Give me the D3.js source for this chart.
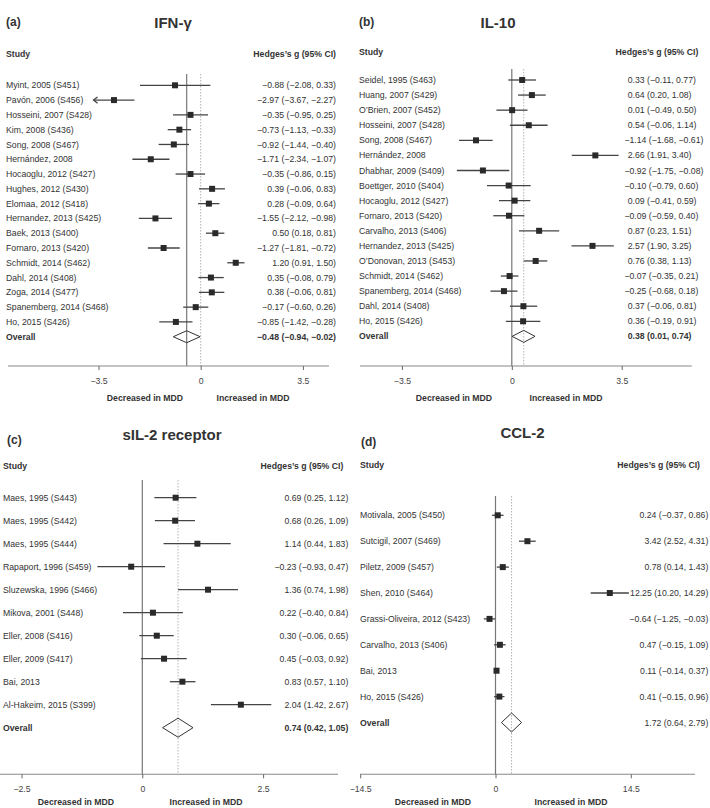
<!DOCTYPE html>
<html>
<head>
<meta charset="utf-8">
<script src="https://cdn.jsdelivr.net/npm/d3@7"></script>
<style>
  body { margin: 0; background: #fff; }
  text { font-family: "Liberation Sans", Arial, sans-serif; }
</style>
</head>
<body>
<svg width="710" height="808"></svg>
<script>
// ---- data: (a) IFN-gamma
const ifnStudies = ["Myint, 2005 (S451)", "Pavón, 2006 (S456)", "Hosseini, 2007 (S428)", "Kim, 2008 (S436)",
  "Song, 2008 (S467)", "Hernández, 2008", "Hocaoglu, 2012 (S427)", "Hughes, 2012 (S430)", "Elomaa, 2012 (S418)",
  "Hernandez, 2013 (S425)", "Baek, 2013 (S400)", "Fornaro, 2013 (S420)", "Schmidt, 2014 (S462)", "Dahl, 2014 (S408)",
  "Zoga, 2014 (S477)", "Spanemberg, 2014 (S468)", "Ho, 2015 (S426)"];
const ifnG  = [-0.88, -2.97, -0.35, -0.73, -0.92, -1.71, -0.35, 0.39, 0.28, -1.55, 0.50, -1.27, 1.20, 0.35, 0.38, -0.17, -0.85];
const ifnLo = [-2.08, -3.67, -0.95, -1.13, -1.44, -2.34, -0.86, -0.06, -0.09, -2.12, 0.18, -1.81, 0.91, -0.08, -0.06, -0.60, -1.42];
const ifnHi = [0.33, -2.27, 0.25, -0.33, -0.40, -1.07, 0.15, 0.83, 0.64, -0.98, 0.81, -0.72, 1.50, 0.79, 0.81, 0.26, -0.28];
const ifnOverall = [-0.48, -0.94, -0.02];
const ifnTicks = [-3.5, 0, 3.5];

// ---- data: (b) IL-10
const il10Studies = ["Seidel, 1995 (S463)", "Huang, 2007 (S429)", "O’Brien, 2007 (S452)", "Hosseini, 2007 (S428)",
  "Song, 2008 (S467)", "Hernández, 2008", "Dhabhar, 2009 (S409)", "Boettger, 2010 (S404)", "Hocaoglu, 2012 (S427)",
  "Fornaro, 2013 (S420)", "Carvalho, 2013 (S406)", "Hernandez, 2013 (S425)", "O’Donovan, 2013 (S453)",
  "Schmidt, 2014 (S462)", "Spanemberg, 2014 (S468)", "Dahl, 2014 (S408)", "Ho, 2015 (S426)"];
const il10G  = [0.33, 0.64, 0.01, 0.54, -1.14, 2.66, -0.92, -0.10, 0.09, -0.09, 0.87, 2.57, 0.76, -0.07, -0.25, 0.37, 0.36];
const il10Lo = [-0.11, 0.20, -0.49, -0.06, -1.68, 1.91, -1.75, -0.79, -0.41, -0.59, 0.23, 1.90, 0.38, -0.35, -0.68, -0.06, -0.19];
const il10Hi = [0.77, 1.08, 0.50, 1.14, -0.61, 3.40, -0.08, 0.60, 0.59, 0.40, 1.51, 3.25, 1.13, 0.21, 0.18, 0.81, 0.91];
const il10Overall = [0.38, 0.01, 0.74];
const il10Ticks = [-3.5, 0, 3.5];

// ---- data: (c) sIL-2 receptor
const sil2Studies = ["Maes, 1995 (S443)", "Maes, 1995 (S442)", "Maes, 1995 (S444)", "Rapaport, 1996 (S459)",
  "Sluzewska, 1996 (S466)", "Mikova, 2001 (S448)", "Eller, 2008 (S416)", "Eller, 2009 (S417)", "Bai, 2013",
  "Al-Hakeim, 2015 (S399)"];
const sil2G  = [0.69, 0.68, 1.14, -0.23, 1.36, 0.22, 0.30, 0.45, 0.83, 2.04];
const sil2Lo = [0.25, 0.26, 0.44, -0.93, 0.74, -0.40, -0.06, -0.03, 0.57, 1.42];
const sil2Hi = [1.12, 1.09, 1.83, 0.47, 1.98, 0.84, 0.65, 0.92, 1.10, 2.67];
const sil2Overall = [0.74, 0.42, 1.05];
const sil2Ticks = [-2.5, 0, 2.5];

// ---- data: (d) CCL-2
const cclStudies = ["Motivala, 2005 (S450)", "Sutcigil, 2007 (S469)", "Piletz, 2009 (S457)", "Shen, 2010 (S464)",
  "Grassi-Oliveira, 2012 (S423)", "Carvalho, 2013 (S406)", "Bai, 2013", "Ho, 2015 (S426)"];
const cclG  = [0.24, 3.42, 0.78, 12.25, -0.64, 0.47, 0.11, 0.41];
const cclLo = [-0.37, 2.52, 0.14, 10.20, -1.25, -0.15, -0.14, -0.15];
const cclHi = [0.86, 4.31, 1.43, 14.29, -0.03, 1.09, 0.37, 0.96];
const cclOverall = [1.72, 0.64, 2.79];
const cclTicks = [-14.5, 0, 14.5];

const panels = [
  { tag: "(a)", title: "IFN-γ", studies: ifnStudies, g: ifnG, lo: ifnLo, hi: ifnHi, overall: ifnOverall, ticks: ifnTicks,
    solidAt: ifnOverall[0], dottedAt: 0, boldOverall: true,
    lay: { tagX: 6, tagY: 22, titleX: 173, titleY: 22.5, headY: 53.5, labelX: 6, headRight: 336,
      statX: 336, statAnchor: "end", rowTop: 85.3, step: 14.79, lineTop: 74, axisY: 366, axisL: 8, axisR: 329,
      range: [98.5, 302.9], dec: [145, 253, 397.7], dh: 6, arrowLim: -3.5 } },
  { tag: "(b)", title: "IL-10", studies: il10Studies, g: il10G, lo: il10Lo, hi: il10Hi, overall: il10Overall, ticks: il10Ticks,
    solidAt: 0, dottedAt: il10Overall[0], boldOverall: true,
    lay: { tagX: 359, tagY: 21.7, titleX: 498, titleY: 22.3, headY: 52.3, labelX: 359, headRight: 698.3,
      statX: 627.7, statAnchor: "start", rowTop: 80, step: 15.08, lineTop: 69, axisY: 366, axisL: 360, axisR: 691.7,
      range: [401.9, 621.7], dec: [454, 566, 398.3], dh: 6, arrowLim: -99 } },
  { tag: "(c)", title: "sIL-2 receptor", studies: sil2Studies, g: sil2G, lo: sil2Lo, hi: sil2Hi, overall: sil2Overall, ticks: sil2Ticks,
    solidAt: 0, dottedAt: sil2Overall[0], boldOverall: true,
    lay: { tagX: 7, tagY: 440, titleX: 172, titleY: 435, headY: 466, labelX: 3, headRight: 343.3,
      statX: 348.3, statAnchor: "end", rowTop: 497.7, step: 23.0, lineTop: 480, axisY: 774.3, axisL: 0, axisR: 338,
      range: [21.5, 263.1], dec: [76, 206, 801.5], dh: 9.5, arrowLim: -99 } },
  { tag: "(d)", title: "CCL-2", studies: cclStudies, g: cclG, lo: cclLo, hi: cclHi, overall: cclOverall, ticks: cclTicks,
    solidAt: 0, dottedAt: cclOverall[0], boldOverall: false,
    lay: { tagX: 361, tagY: 441.7, titleX: 522.5, titleY: 433, headY: 465, labelX: 360, headRight: 700,
      statX: 708.3, statAnchor: "end", rowTop: 515.3, step: 25.9, lineTop: 496, axisY: 774.3, axisL: 360, axisR: 695,
      range: [360.2, 630.8], dec: [433, 571, 801.5], dh: 9.5, arrowLim: -99 } }
];

const svg = d3.select("svg");
const fmt = d3.format(".2f");
const FS = 8.7;
const TXT = "#333";

function statText(g, lo, hi) {
  return fmt(g) + " (" + fmt(lo) + ", " + fmt(hi) + ")";
}

panels.forEach(function (p) {
  const L = p.lay;
  const x = d3.scaleLinear().domain([p.ticks[0], p.ticks[p.ticks.length - 1]]).range(L.range);
  const n = p.studies.length;
  const rowY = i => L.rowTop + i * L.step;
  const g = svg.append("g");

  // headers
  g.append("text").attr("x", L.tagX).attr("y", L.tagY).attr("dy", "0.35em")
    .attr("font-size", 12).attr("font-weight", "bold").attr("fill", TXT).text(p.tag);
  g.append("text").attr("x", L.titleX).attr("y", L.titleY).attr("dy", "0.35em").attr("text-anchor", "middle")
    .attr("font-size", 15).attr("font-weight", "bold").attr("fill", TXT).text(p.title);
  g.append("text").attr("x", L.labelX).attr("y", L.headY).attr("dy", "0.35em")
    .attr("font-size", FS).attr("font-weight", "bold").attr("fill", TXT).text("Study");
  g.append("text").attr("x", L.headRight).attr("y", L.headY).attr("dy", "0.35em").attr("text-anchor", "end")
    .attr("font-size", FS).attr("font-weight", "bold").attr("fill", TXT).text("Hedges’s g (95% CI)");

  // reference lines
  g.append("line").attr("x1", x(p.solidAt)).attr("x2", x(p.solidAt))
    .attr("y1", L.lineTop).attr("y2", L.axisY).attr("stroke", "#777").attr("stroke-width", 1.2);
  g.append("line").attr("x1", x(p.dottedAt)).attr("x2", x(p.dottedAt))
    .attr("y1", L.lineTop).attr("y2", L.axisY).attr("stroke", "#aaa").attr("stroke-width", 0.9)
    .attr("stroke-dasharray", "1.5,1.5");

  const rows = p.studies.map((s, i) => ({ s: s, g: p.g[i], lo: p.lo[i], hi: p.hi[i], y: rowY(i) }));

  // CI lines
  rows.forEach(function (r) {
    g.append("line").attr("x1", x(r.lo)).attr("x2", x(r.hi)).attr("y1", r.y).attr("y2", r.y)
      .attr("stroke", "#444").attr("stroke-width", 1.3);
    if (r.lo < L.arrowLim) {
      const ax = x(r.lo);
      g.append("path").attr("d", `M${ax + 4},${r.y - 3.2}L${ax},${r.y}L${ax + 4},${r.y + 3.2}`)
        .attr("fill", "none").attr("stroke", "#444").attr("stroke-width", 1.3);
    }
  });

  // boxes
  g.selectAll("rect.box").data(rows).enter().append("rect")
    .attr("x", d => x(d.g) - 3).attr("y", d => d.y - 3)
    .attr("width", 6).attr("height", 6).attr("fill", "#2a2a2a");

  // study labels
  g.selectAll("text.lab").data(rows).enter().append("text")
    .attr("x", L.labelX).attr("y", d => d.y).attr("dy", "0.35em")
    .attr("font-size", FS).attr("fill", TXT).text(d => d.s);

  // stats
  g.selectAll("text.stat").data(rows).enter().append("text")
    .attr("x", d => L.statAnchor === "start" && d.g < 0 ? L.statX - 3.3 : L.statX)
    .attr("y", d => d.y).attr("dy", "0.35em").attr("text-anchor", L.statAnchor)
    .attr("font-size", FS).attr("fill", TXT).text(d => statText(d.g, d.lo, d.hi));

  // overall
  const oy = rowY(n);
  const o = p.overall;
  g.append("path")
    .attr("d", `M${x(o[1])},${oy}L${x(o[0])},${oy - L.dh}L${x(o[2])},${oy}L${x(o[0])},${oy + L.dh}Z`)
    .attr("fill", "none").attr("stroke", "#333").attr("stroke-width", 1);
  g.append("text").attr("x", L.labelX).attr("y", oy).attr("dy", "0.35em")
    .attr("font-size", FS).attr("font-weight", "bold").attr("fill", TXT).text("Overall");
  g.append("text")
    .attr("x", L.statAnchor === "start" && o[0] < 0 ? L.statX - 3.3 : L.statX)
    .attr("y", oy).attr("dy", "0.35em").attr("text-anchor", L.statAnchor)
    .attr("font-size", FS).attr("font-weight", p.boldOverall ? "bold" : "normal").attr("fill", TXT)
    .text(statText(o[0], o[1], o[2]));

  // axis
  g.append("line").attr("x1", L.axisL).attr("x2", L.axisR).attr("y1", L.axisY).attr("y2", L.axisY)
    .attr("stroke", "#888").attr("stroke-width", 1.1);
  const ax = g.append("g").attr("transform", `translate(0,${L.axisY})`)
    .call(d3.axisBottom(x).tickValues(p.ticks).tickSize(4).tickSizeOuter(0).tickPadding(8)
      .tickFormat(d3.format("")));
  ax.select(".domain").remove();
  ax.selectAll(".tick line").attr("stroke", "#666");
  ax.selectAll(".tick text").attr("font-size", FS).attr("fill", "#444")
    .attr("font-family", "'Liberation Sans', Arial, sans-serif");

  // direction labels
  g.append("text").attr("x", L.dec[0]).attr("y", L.dec[2]).attr("dy", "0.35em").attr("text-anchor", "middle")
    .attr("font-size", FS).attr("font-weight", "bold").attr("fill", TXT).text("Decreased in MDD");
  g.append("text").attr("x", L.dec[1]).attr("y", L.dec[2]).attr("dy", "0.35em").attr("text-anchor", "middle")
    .attr("font-size", FS).attr("font-weight", "bold").attr("fill", TXT).text("Increased in MDD");
});
</script>
</body>
</html>
